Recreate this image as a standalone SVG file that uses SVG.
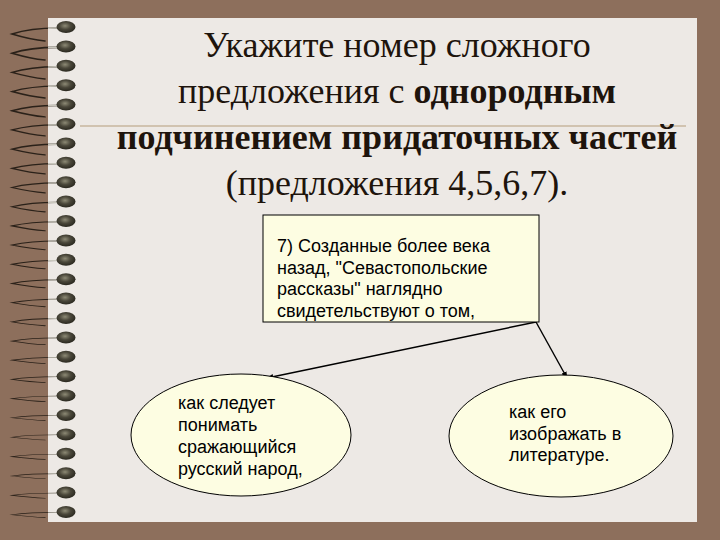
<svg xmlns="http://www.w3.org/2000/svg" xmlns:xlink="http://www.w3.org/1999/xlink" width="720" height="540" viewBox="0 0 720 540">
<defs>
<style>
.title{font-family:"Liberation Serif","Times New Roman",serif;font-size:36px;fill:#1e140c;text-anchor:middle}
.b{font-weight:bold}
.t{font-family:"Liberation Sans",Arial,sans-serif;font-size:18px;fill:#000}
.shape{fill:#fdfde2;stroke:#000;stroke-width:1}
.conn{stroke:#000;stroke-width:1.4;fill:none;marker-end:url(#ah)}
.wire{fill:none;stroke:#2a2119;stroke-width:1.6;stroke-linecap:round}
.wireL{fill:none;stroke:#c9c7bd;stroke-width:1.6}
</style>
<radialGradient id="bead" cx="0.45" cy="0.4" r="0.6">
<stop offset="0" stop-color="#8d8a75"/>
<stop offset="0.5" stop-color="#4a473a"/>
<stop offset="1" stop-color="#2a281f"/>
</radialGradient>
<marker id="ah" viewBox="0 0 10 10" refX="9" refY="5" markerWidth="7" markerHeight="7" orient="auto" markerUnits="userSpaceOnUse">
<path d="M0,1 L10,5 L0,9 z" fill="#000"/>
</marker>
<g id="wireA">
<path class="wire" d="M58,1 C42,1 24,3 12,7 C22,10 34,13 45,14"/>
<path class="wireL" d="M48,1.2 L58,1"/>
</g>
<ellipse id="beadE" cx="66" cy="0" rx="9.5" ry="6" fill="url(#bead)"/>
</defs>
<rect x="0" y="0" width="720" height="540" fill="#8d6f5c"/>
<rect x="48" y="18" width="649" height="504" fill="#ede9e5"/>
<line x1="80" y1="126" x2="686" y2="126" stroke="#c7b69e" stroke-width="1.5"/>
<g id="spiral">
<use xlink:href="#wireA" transform="translate(0,27) scale(1,1)"/><use xlink:href="#beadE" y="27"/>
<use xlink:href="#wireA" transform="translate(0,46.4) scale(1,0.97)"/><use xlink:href="#beadE" y="46.4"/>
<use xlink:href="#wireA" transform="translate(0,65.8) scale(1,0.94)"/><use xlink:href="#beadE" y="65.8"/>
<use xlink:href="#wireA" transform="translate(0,85.2) scale(1,0.91)"/><use xlink:href="#beadE" y="85.2"/>
<use xlink:href="#wireA" transform="translate(0,104.6) scale(1,0.88)"/><use xlink:href="#beadE" y="104.6"/>
<use xlink:href="#wireA" transform="translate(0,124) scale(1,0.85)"/><use xlink:href="#beadE" y="124"/>
<use xlink:href="#wireA" transform="translate(0,143.4) scale(1,0.82)"/><use xlink:href="#beadE" y="143.4"/>
<use xlink:href="#wireA" transform="translate(0,162.8) scale(1,0.79)"/><use xlink:href="#beadE" y="162.8"/>
<use xlink:href="#wireA" transform="translate(0,182.2) scale(1,0.76)"/><use xlink:href="#beadE" y="182.2"/>
<use xlink:href="#wireA" transform="translate(0,201.6) scale(1,0.73)"/><use xlink:href="#beadE" y="201.6"/>
<use xlink:href="#wireA" transform="translate(0,221) scale(1,0.70)"/><use xlink:href="#beadE" y="221"/>
<use xlink:href="#wireA" transform="translate(0,240.4) scale(1,0.67)"/><use xlink:href="#beadE" y="240.4"/>
<use xlink:href="#wireA" transform="translate(0,259.8) scale(1,0.64)"/><use xlink:href="#beadE" y="259.8"/>
<use xlink:href="#wireA" transform="translate(0,279.2) scale(1,0.61)"/><use xlink:href="#beadE" y="279.2"/>
<use xlink:href="#wireA" transform="translate(0,298.6) scale(1,0.58)"/><use xlink:href="#beadE" y="298.6"/>
<use xlink:href="#wireA" transform="translate(0,318) scale(1,0.55)"/><use xlink:href="#beadE" y="318"/>
<use xlink:href="#wireA" transform="translate(0,337.4) scale(1,0.52)"/><use xlink:href="#beadE" y="337.4"/>
<use xlink:href="#wireA" transform="translate(0,356.8) scale(1,0.49)"/><use xlink:href="#beadE" y="356.8"/>
<use xlink:href="#wireA" transform="translate(0,376.2) scale(1,0.46)"/><use xlink:href="#beadE" y="376.2"/>
<use xlink:href="#wireA" transform="translate(0,395.6) scale(1,0.43)"/><use xlink:href="#beadE" y="395.6"/>
<use xlink:href="#wireA" transform="translate(0,415) scale(1,0.40)"/><use xlink:href="#beadE" y="415"/>
<use xlink:href="#wireA" transform="translate(0,434.4) scale(1,0.40)"/><use xlink:href="#beadE" y="434.4"/>
<use xlink:href="#wireA" transform="translate(0,453.8) scale(1,0.40)"/><use xlink:href="#beadE" y="453.8"/>
<use xlink:href="#wireA" transform="translate(0,473.2) scale(1,0.40)"/><use xlink:href="#beadE" y="473.2"/>
<use xlink:href="#wireA" transform="translate(0,492.6) scale(1,0.40)"/><use xlink:href="#beadE" y="492.6"/>
<use xlink:href="#wireA" transform="translate(0,512) scale(1,0.40)"/><use xlink:href="#beadE" y="512"/>
</g>
<g id="title">
<text class="title" x="397" y="57">Укажите номер сложного</text>
<text class="title" x="397" y="103">предложения с <tspan class="b">однородным</tspan></text>
<text class="title b" x="397" y="149">подчинением придаточных частей</text>
<text class="title" x="397" y="195">(предложения 4,5,6,7).</text>
</g>
<g id="connectors">
<line class="conn" x1="536" y1="322" x2="267" y2="378"/>
<line class="conn" x1="536" y1="322" x2="567" y2="378"/>
</g>
<g id="node-main">
<rect class="shape" x="263" y="215" width="276" height="107"/>
<text class="t" x="277" y="252">7) Созданные более века</text>
<text class="t" x="277" y="273.5">назад, "Севастопольские</text>
<text class="t" x="277" y="295">рассказы" наглядно</text>
<text class="t" x="277" y="316.5">свидетельствуют о том,</text>
</g>
<g id="node-left">
<ellipse class="shape" cx="241" cy="435" rx="110" ry="61"/>
<text class="t" x="178" y="409">как следует</text>
<text class="t" x="178" y="431">понимать</text>
<text class="t" x="178" y="453">сражающийся</text>
<text class="t" x="178" y="475">русский народ,</text>
</g>
<g id="node-right">
<ellipse class="shape" cx="561" cy="436" rx="112" ry="61"/>
<text class="t" x="509" y="418">как его</text>
<text class="t" x="509" y="440">изображать в</text>
<text class="t" x="509" y="461">литературе.</text>
</g>
</svg>
